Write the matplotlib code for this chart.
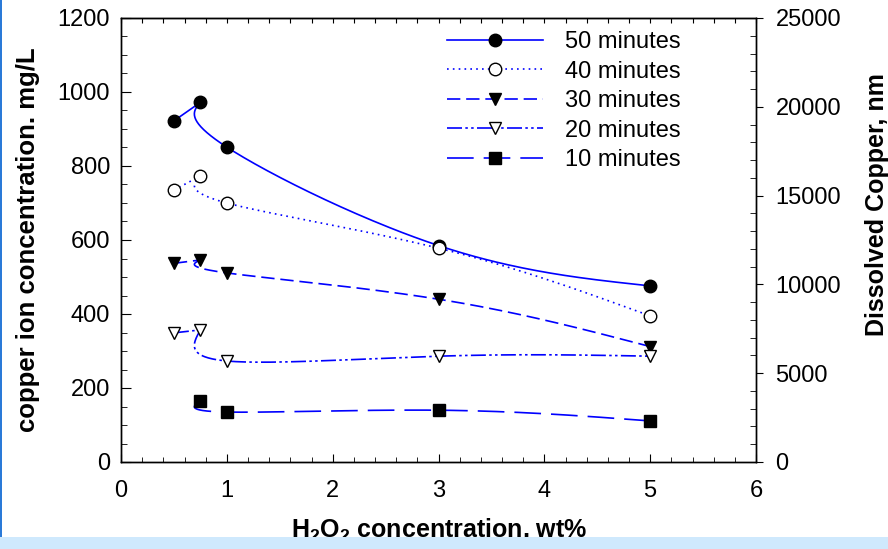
import numpy as np
import matplotlib
matplotlib.use("Agg")
import matplotlib.pyplot as plt
from matplotlib.lines import Line2D
from matplotlib.patches import Rectangle

plt.rcParams['font.family'] = ['Liberation Sans', 'DejaVu Sans']
plt.rcParams['mathtext.fontset'] = 'custom'
plt.rcParams['mathtext.rm'] = 'Liberation Sans:bold'
plt.rcParams['mathtext.bf'] = 'Liberation Sans:bold'

# ---- data ----
h2o2 = [0.5, 0.75, 1.0, 3.0, 5.0]
cu_50 = [922, 972, 851, 585, 476]
cu_40 = [735, 773, 700, 578, 395]
cu_30 = [537, 546, 511, 440, 312]
cu_20 = [349, 357, 273, 286, 286]
cu_10 = [np.nan, 165, 135, 140, 111]
series_labels = ["50 minutes", "40 minutes", "30 minutes", "20 minutes", "10 minutes"]
xticks = [0, 1, 2, 3, 4, 5, 6]
yticks_left = [0, 200, 400, 600, 800, 1000, 1200]
yticks_right = [0, 5000, 10000, 15000, 20000, 25000]

BLUE = '#0000ff'
styles = [
    dict(ls='-', marker='o', mfc='black'),
    dict(ls=(0, (1, 2.5)), marker='o', mfc='white'),
    dict(ls=(0, (8, 3.5)), marker='v', mfc='black'),
    dict(ls=(0, (9, 2, 1.5, 2, 1.5, 2)), marker='v', mfc='white'),
    dict(ls=(0, (16, 6)), marker='s', mfc='black'),
]


def spline_curve(xs, ys, n=60):
    """Natural parametric cubic spline (index-parameterised), for drawing."""
    xs = np.asarray(xs, float); ys = np.asarray(ys, float)
    k = len(xs)

    def second(v):
        M = np.zeros(k)
        if k > 2:
            A = np.zeros((k - 2, k - 2)); b = np.zeros(k - 2)
            for i in range(1, k - 1):
                A[i - 1, i - 1] = 4
                if i - 2 >= 0:
                    A[i - 1, i - 2] = 1
                if i < k - 2:
                    A[i - 1, i] = 1
                b[i - 1] = 6 * (v[i + 1] - 2 * v[i] + v[i - 1])
            M[1:-1] = np.linalg.solve(A, b)
        return M

    Mx, My = second(xs), second(ys)
    px, py = [], []
    u = np.linspace(0, 1, n)
    for i in range(k - 1):
        a = (1 - u); c = u
        fx = a * xs[i] + c * xs[i + 1] + (a**3 - a) * Mx[i] / 6 + (c**3 - c) * Mx[i + 1] / 6
        fy = a * ys[i] + c * ys[i + 1] + (a**3 - a) * My[i] / 6 + (c**3 - c) * My[i + 1] / 6
        px.extend(fx); py.extend(fy)
    return np.array(px), np.array(py)


fig = plt.figure(figsize=(8.88, 5.49), dpi=100)
ax = fig.add_axes([121 / 888, 1 - 462 / 549, 635 / 888, 444 / 549])

handles = []
for ys, st, lab in zip([cu_50, cu_40, cu_30, cu_20, cu_10], styles, series_labels):
    xs = np.array(h2o2); ys = np.array(ys, float)
    ok = ~np.isnan(ys)
    # first segment (0.5 -> 0.75) straight, remaining spline
    if ok[0]:
        ax.plot(xs[:2], ys[:2], color=BLUE, lw=1.2, ls=st['ls'], zorder=2)
    sx, sy = spline_curve(xs[1:], ys[1:])
    ax.plot(sx, sy, color=BLUE, lw=1.2, ls=st['ls'], zorder=2)
    ms = 8 if st['marker'] == 's' else 9
    ax.plot(xs[ok], ys[ok], ls='none', marker=st['marker'], ms=ms,
            mfc=st['mfc'], mec='black', mew=1.0, zorder=3)
    handles.append(Line2D([], [], color=BLUE, lw=1.2, ls=st['ls'], marker=st['marker'],
                          ms=ms, mfc=st['mfc'], mec='black', mew=1.0))

ax.set_xlim(0, 6)
ax.set_ylim(0, 1200)
ax.set_xticks(xticks)
ax.set_xticks(np.arange(0, 6.01, 0.2), minor=True)
ax.set_yticks(yticks_left)
ax.set_yticks(np.arange(0, 1201, 50), minor=True)
ax.tick_params(axis='both', which='both', direction='in', labelsize=17, top=False, right=False)
ax.tick_params(axis='x', which='major', length=6, pad=13)
ax.tick_params(axis='x', which='minor', length=3.5)
ax.tick_params(axis='y', which='major', length=7, pad=8)
ax.tick_params(axis='y', which='minor', length=4)

sec = ax.secondary_xaxis('top')
sec.set_xticks(np.arange(0, 6.01, 0.2))
sec.tick_params(direction='in', length=3.5, labeltop=False)
sec.set_xticklabels([])

ax2 = ax.twinx()
ax2.set_ylim(0, 25000)
ax2.set_yticks(yticks_right)
ax2.set_yticks(np.arange(0, 25001, 1000), minor=True)
ax2.tick_params(axis='y', which='major', direction='out', length=5, labelsize=17, pad=9)
ax2.tick_params(axis='y', which='minor', direction='in', length=4)

for a in (ax, ax2):
    for s in a.spines.values():
        s.set_linewidth(1.0)

leg = ax.legend(handles, series_labels, loc='upper left',
                bbox_to_anchor=((447 - 121) / 635, (462 - 31) / 444),
                frameon=False, fontsize=17, handlelength=4.05, handletextpad=0.93,
                labelspacing=0.32, borderpad=0, borderaxespad=0)

fig.text(28 / 888, 1 - 240 / 549, "copper ion concentration. mg/L", rotation=90,
         fontsize=18.5, fontweight='bold', ha='center', va='center')
fig.text(877 / 888, 1 - 205 / 549, "Dissolved Copper, nm", rotation=90,
         fontsize=18, fontweight='bold', ha='center', va='center')
fig.text(439 / 888, 1 - 538 / 549, r"H$_2$O$_2$ concentration, wt%",
         fontsize=18, fontweight='bold', ha='center', va='baseline')

# decorative frame seen in reference
fig.patches.append(Rectangle((0, 0), 1, 12 / 549, transform=fig.transFigure,
                             facecolor='#cfe9fd', edgecolor='none', zorder=10))
fig.patches.append(Rectangle((0, 12 / 549), 2 / 888, 1, transform=fig.transFigure,
                             facecolor='#2a7ad8', edgecolor='none', zorder=10))

fig.savefig("out.png", dpi=100)
